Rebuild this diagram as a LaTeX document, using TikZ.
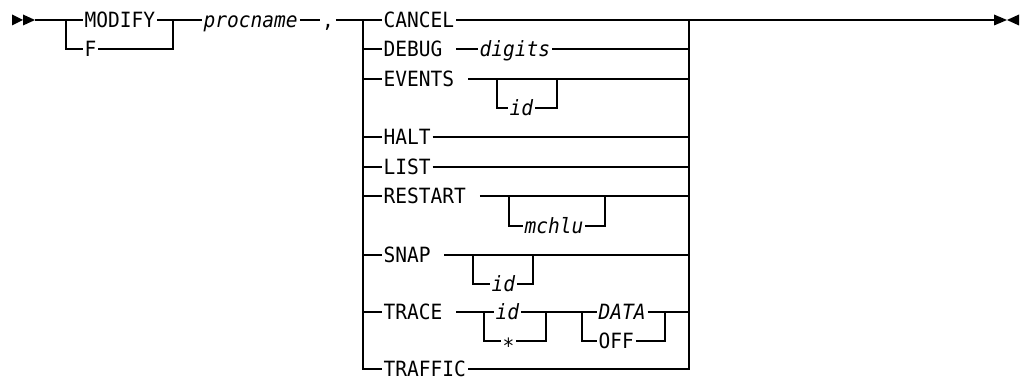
\documentclass[tikz,border=0pt]{standalone}
\usepackage{fontspec}
\setmonofont[FakeStretch=0.93]{DejaVu Sans Mono}
\begin{document}
\begin{tikzpicture}[x=1pt,y=-1pt,line width=1.2pt,
  t/.style={anchor=west,inner xsep=1.5pt,inner ysep=0pt,text height=15.3pt,text depth=0pt,
    font=\fontsize{21}{25}\selectfont\ttfamily},
  v/.style={t,font=\fontsize{21}{25}\selectfont\ttfamily\itshape},
  tip/.style={fill=black,draw=none}]
\useasboundingbox (0,0) rectangle (1023,379);
% start / end markers
\fill[tip] (12,14.5) -- (23,20) -- (12,25.5) -- cycle;
\fill[tip] (23,14.5) -- (35,20) -- (23,25.5) -- cycle;
\fill[tip] (994,14.5) -- (1007,20) -- (994,25.5) -- cycle;
\fill[tip] (1019,14.5) -- (1007,20) -- (1019,25.5) -- cycle;
\coordinate (s) at (35,20);
\coordinate (e) at (994,20);
% first part
\coordinate (b1) at (66,20);
\coordinate (b1d) at (66,49);
\coordinate (b2) at (173,20);
\coordinate (b2d) at (173,49);
\node[t] (modify) at (82.5,20) {MODIFY};
\node[t] (f) at (82.5,49) {F};
\node[v] (proc) at (201.5,20) {procname};
\node[t] (comma) at (320,20) {,};
\coordinate (L) at (363,20);
\coordinate (R) at (689,20);
\draw (s) -- (b1) -- (modify.west);
\draw (b1) |- (f.west);
\draw (modify.east) -- (b2) -- (proc.west);
\draw (f.east) -| (b2);
\draw (proc.east) -- (comma.west);
\draw (comma.east) -- (L);
% choices
\node[t] (cancel) at (381.5,20) {CANCEL};
\node[t] (debug) at (381.5,49) {\mbox{DEBUG\ }};
\node[v] (digits) at (477.5,49) {digits};
\node[t] (events) at (381.5,79) {\mbox{EVENTS\ }};
\node[v] (eid) at (507.5,108) {id};
\node[t] (halt) at (381.5,137) {HALT};
\node[t] (list) at (381.5,167) {LIST};
\node[t] (restart) at (381.5,196) {\mbox{RESTART\ }};
\node[v] (mchlu) at (522.5,226) {mchlu};
\node[t] (snap) at (381.5,255) {\mbox{SNAP\ }};
\node[v] (sid) at (489.5,284) {id};
\node[t] (trace) at (381.5,312) {\mbox{TRACE\ }};
\node[v] (tid) at (493.5,312) {id};
\node[t] (star) at (500.5,341) {\raisebox{-5pt}{*}};
\node[v] (data) at (596.5,312) {DATA};
\node[t] (off) at (596.5,341) {OFF};
\node[t] (traffic) at (381.5,369) {TRAFFIC};
% left rail and row entries
\draw (L) |- (traffic.west);
\foreach \n in {debug,events,halt,list,restart,snap,trace}
  \draw (L |- \n.west) -- (\n.west);
\draw (L) -- (cancel.west);
% right rail and main exit
\draw (traffic.east) -| (R);
\draw (cancel.east) -- (R) -- (e);
\draw (debug.east) -- (digits.west);
\draw (digits.east) -- (R |- digits.east);
\draw (events.east) -- (R |- events.east);
\draw (halt.east) -- (R |- halt.east);
\draw (list.east) -- (R |- list.east);
\draw (restart.east) -- (R |- restart.east);
\draw (snap.east) -- (R |- snap.east);
% optional id for EVENTS
\coordinate (e1) at (497,79);
\coordinate (e2) at (557,79);
\draw (e1) |- (eid.west);
\draw (eid.east) -| (e2);
% optional mchlu for RESTART
\coordinate (r1) at (509,196);
\coordinate (r2) at (605,196);
\draw (r1) |- (mchlu.west);
\draw (mchlu.east) -| (r2);
% optional id for SNAP
\coordinate (n1) at (473,255);
\coordinate (n2) at (533,255);
\draw (n1) |- (sid.west);
\draw (sid.east) -| (n2);
% TRACE
\coordinate (t1) at (484,312);
\coordinate (t2) at (546,312);
\coordinate (t3) at (582,312);
\coordinate (t4) at (665,312);
\draw (trace.east) -- (t1) -- (tid.west);
\draw (t1) |- (star.west);
\draw (tid.east) -- (t2) -- (t3) -- (data.west);
\draw (star.east) -| (t2);
\draw (t3) |- (off.west);
\draw (data.east) -- (t4) -- (R |- data.east);
\draw (off.east) -| (t4);
\end{tikzpicture}
\end{document}
